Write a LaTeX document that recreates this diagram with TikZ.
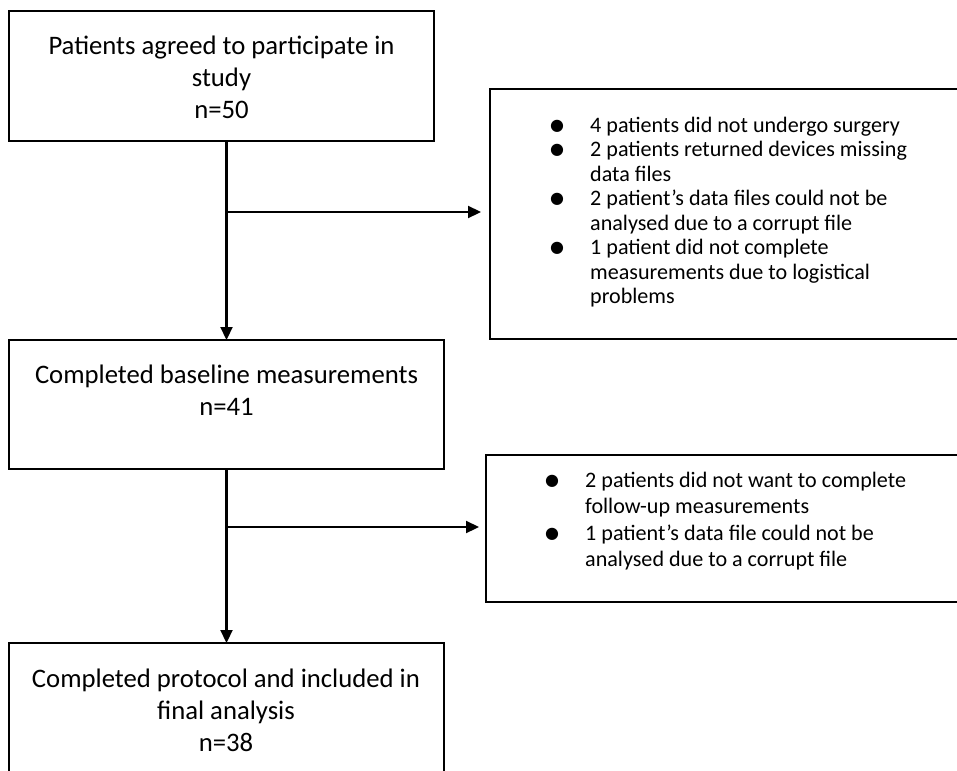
\documentclass[tikz,border=0pt]{standalone}
\usepackage{fontspec}
\setmainfont{Carlito}
\newfontfamily\dejavu{DejaVu Sans}
\usetikzlibrary{arrows.meta}
\newcommand{\bul}{\makebox[20pt]{\raisebox{1.8pt}{\dejavu\fontsize{16}{16}\selectfont ●}}}
\begin{document}
\begin{tikzpicture}[x=1pt,y=-1pt,
  box/.style={draw=black, line width=1.8pt, fill=none, inner sep=0pt, outer sep=0pt, anchor=north west},
  maintxt/.style={anchor=base, inner sep=0pt, font=\fontsize{26.7}{32.3}\selectfont},
  listtxt/.style={anchor=base west, inner sep=0pt},
  arr/.style={line width=2.2pt, -{Triangle[length=13pt,width=12pt]}}]
\useasboundingbox (0,0) rectangle (957,770);
\clip (0,0) rectangle (957,770);
% boxes
\node[box, minimum width=425pt, minimum height=130pt] (b1) at (9,11) {};
\node[box, minimum width=435pt, minimum height=129pt] (b2) at (9,340) {};
\node[box, minimum width=435pt, minimum height=200pt] (b3) at (9,643) {};
\node[box, minimum width=600pt, minimum height=250pt] (r1) at (490,89) {};
\node[box, minimum width=600pt, minimum height=147pt] (r2) at (486,455) {};
% texts
\node[maintxt] (t1) at (221.5,54.3) {\begin{tabular}[t]{@{}c@{}}Patients agreed to participate in\\ study\\ n=50\end{tabular}};
\node[maintxt] (t2) at (226.5,383) {\begin{tabular}[t]{@{}c@{}}Completed baseline measurements\\ n=41\end{tabular}};
\node[maintxt] (t3) at (226,687) {\begin{tabular}[t]{@{}c@{}}Completed protocol and included in\\ final analysis\\ n=38\end{tabular}};
\node[listtxt, font=\fontsize{22.1}{24.5}\selectfont] (l1) at (547,132.3) {\begin{tabular}[t]{@{}c@{\hspace{23pt}}l@{}}
\bul & 4 patients did not undergo surgery\\
\bul & 2 patients returned devices missing\\
 & data files\\
\bul & 2 patient’s data files could not be\\
 & analysed due to a corrupt file\\
\bul & 1 patient did not complete\\
 & measurements due to logistical\\
 & problems
\end{tabular}};
\node[listtxt, font=\fontsize{22.1}{26.5}\selectfont] (l2) at (542,487) {\begin{tabular}[t]{@{}c@{\hspace{23pt}}l@{}}
\bul & 2 patients did not want to complete\\
 & follow-up measurements\\
\bul & 1 patient’s data file could not be\\
 & analysed due to a corrupt file
\end{tabular}};
% connectors
\coordinate (j1) at (b2.north |- 0,212);
\coordinate (j2) at (b3.north |- 0,527);
\draw[arr] (b2.north |- b1.south) -- (b2.north);
\draw[arr] (j1) -- ([xshift=-9pt]j1 -| r1.west);
\draw[arr] (b3.north |- b2.south) -- (b3.north);
\draw[arr] (j2) -- ([xshift=-7pt]j2 -| r2.west);
\end{tikzpicture}
\end{document}
